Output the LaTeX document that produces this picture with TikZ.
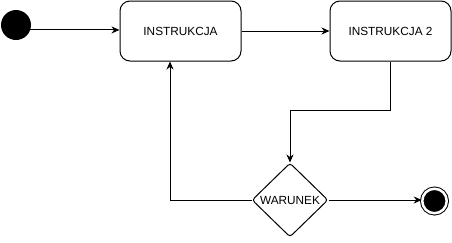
\documentclass[tikz,border=0pt]{standalone}
\usepackage{fontspec}
\setmainfont{Liberation Sans}
\usetikzlibrary{positioning}
\usetikzlibrary{shapes.geometric}
\usetikzlibrary{arrows.meta}

\tikzset{
	strzalka/.style = {black, line width = 1pt, -{Stealth[length = 8pt, width = 7pt, inset = 2.5pt]}},
	krok/.style = {draw, line width = 1pt, rounded corners = 10pt, minimum width = 121pt, minimum height = 60pt, font = \fontsize{11.8}{14}\selectfont},
	warunek/.style = {draw, diamond, line width = 1pt, rounded corners = 3pt, inner sep = 0pt, minimum width = 76pt, minimum height = 74pt, font = \fontsize{11.8}{14}\selectfont},
	poczatek/.style = {circle, fill = black, inner sep = 0pt, minimum size = 30pt},
	koniec/.style = {circle, draw = black, line width = 1pt, double = white, double distance = 2.5pt, fill = black, inner sep = 0pt, minimum size = 24.5pt}
}

\begin{document}
\begin{tikzpicture}[x = 1pt, y = -1pt]
	\useasboundingbox (0, 0) rectangle (452, 242);
	\node[poczatek] (start) at (16, 25) {};
	\node[krok] (instr1) at (180.5, 31) {INSTRUKCJA};
	\node[krok] (instr2) at (390.5, 31) {INSTRUKCJA 2};
	\node[warunek] (war) at (290, 200) {WARUNEK};
	\node[koniec] (stop) at (434.5, 201) {};
	\draw[strzalka] (start.-19) -- (start.-19 -| instr1.west);
	\draw[strzalka] (instr1.east) -- (instr2.west);
	\draw[strzalka] (instr2.south) -- ++(0, 49) -| (war.north);
	\draw[strzalka] (war.west) -| ([xshift = -10.5pt]instr1.south);
	\draw[strzalka] (war.east) -- (war.east -| stop.west);
\end{tikzpicture}
\end{document}
